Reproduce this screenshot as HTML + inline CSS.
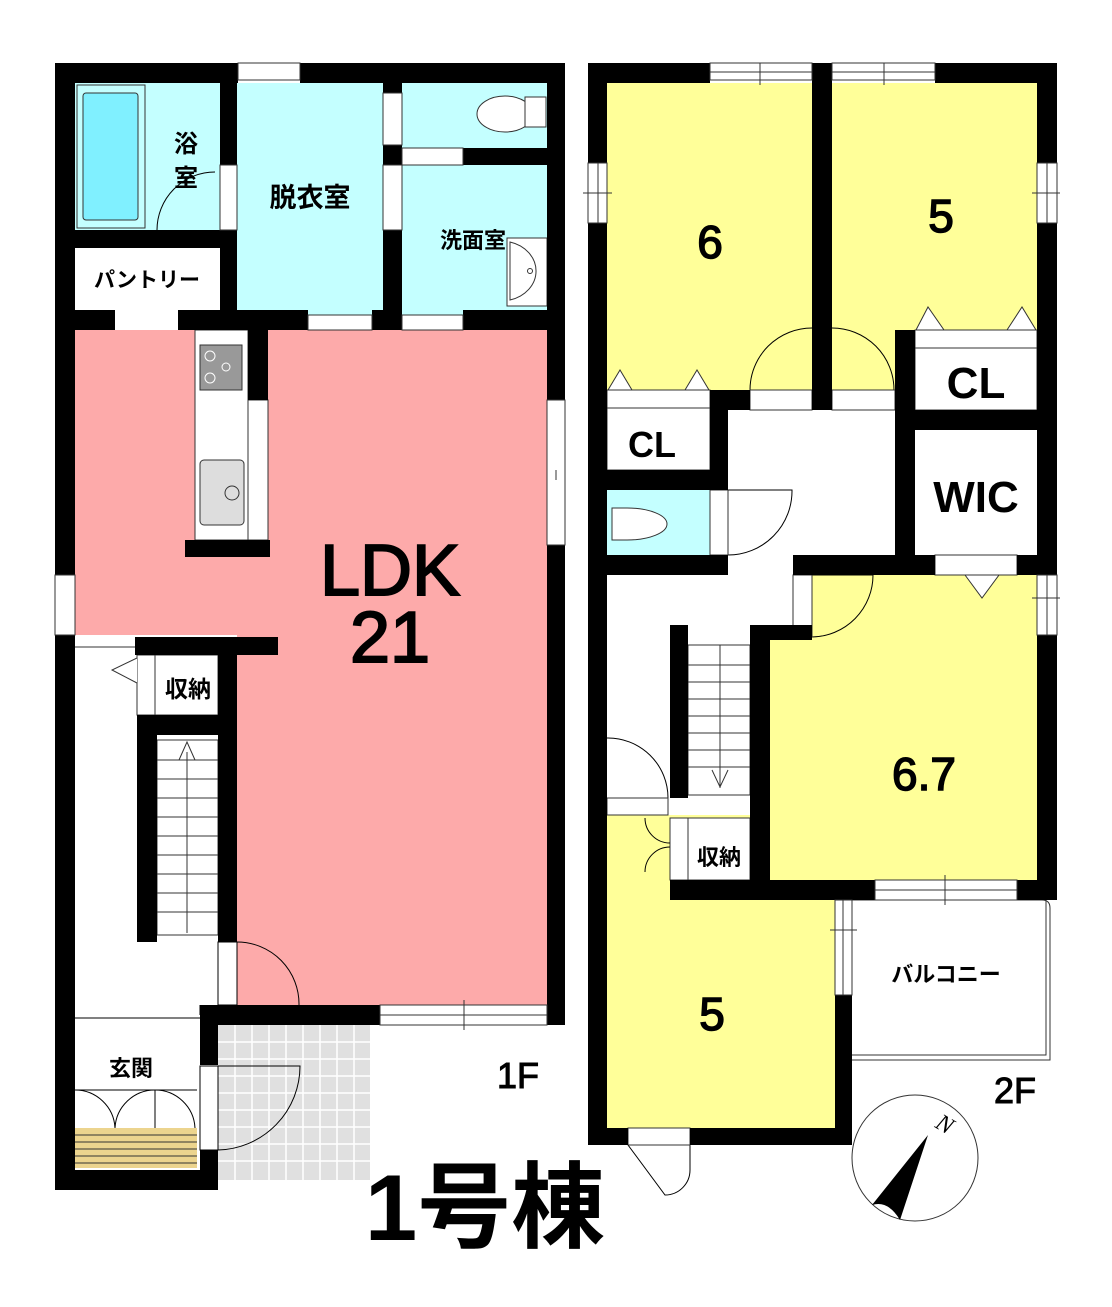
<!DOCTYPE html>
<html><head><meta charset="utf-8"><style>
html,body{margin:0;padding:0;background:#fff;}
svg{display:block;}
text{font-family:"Liberation Sans","Noto Sans CJK JP",sans-serif;font-weight:bold;fill:#000;}
</style></head><body>
<svg width="1112" height="1307" viewBox="0 0 1112 1307" xmlns="http://www.w3.org/2000/svg">
<rect width="1112" height="1307" fill="#fff"/>
<!-- ===== 1F fills ===== -->
<rect x="75" y="83" width="145" height="147" fill="#c4ffff"/>
<rect x="83" y="93" width="55" height="127" fill="#80f0ff" stroke="#333" stroke-width="1" rx="3"/>
<rect x="77" y="85" width="68" height="143" fill="none" stroke="#333" stroke-width="1"/>
<rect x="237" y="83" width="146" height="232" fill="#c4ffff"/>
<rect x="402" y="83" width="145" height="65" fill="#c4ffff"/>
<rect x="402" y="165" width="145" height="150" fill="#c4ffff"/>
<rect x="75" y="330" width="472" height="305" fill="#fdaaaa"/>
<rect x="237" y="635" width="310" height="372" fill="#fdaaaa"/>
<rect x="218" y="1025" width="152" height="155" fill="#e0e0e0"/>
<g stroke="#fff" stroke-width="1.5">
<line x1="235" y1="1025" x2="235" y2="1180"/><line x1="252" y1="1025" x2="252" y2="1180"/><line x1="269" y1="1025" x2="269" y2="1180"/><line x1="286" y1="1025" x2="286" y2="1180"/><line x1="303" y1="1025" x2="303" y2="1180"/><line x1="320" y1="1025" x2="320" y2="1180"/><line x1="337" y1="1025" x2="337" y2="1180"/><line x1="354" y1="1025" x2="354" y2="1180"/>
<line x1="218" y1="1042" x2="370" y2="1042"/><line x1="218" y1="1059" x2="370" y2="1059"/><line x1="218" y1="1076" x2="370" y2="1076"/><line x1="218" y1="1093" x2="370" y2="1093"/><line x1="218" y1="1110" x2="370" y2="1110"/><line x1="218" y1="1127" x2="370" y2="1127"/><line x1="218" y1="1144" x2="370" y2="1144"/><line x1="218" y1="1161" x2="370" y2="1161"/>
</g>
<!-- shoe cabinet -->
<rect x="75" y="1128" width="122" height="40" fill="#ecd48e"/>
<g stroke="#333" stroke-width="1"><line x1="75" y1="1135" x2="197" y2="1135"/><line x1="75" y1="1142" x2="197" y2="1142"/><line x1="75" y1="1149" x2="197" y2="1149"/><line x1="75" y1="1156" x2="197" y2="1156"/><line x1="75" y1="1163" x2="197" y2="1163"/></g>
<g fill="none" stroke="#000" stroke-width="1">
<path d="M75 1090 A40 40 0 0 1 115 1128"/><path d="M155 1090 A40 40 0 0 0 115 1128"/><path d="M155 1090 A40 40 0 0 1 195 1128"/><line x1="155" y1="1090" x2="155" y2="1128"/>
<line x1="75" y1="1090" x2="197" y2="1090"/>
<line x1="75" y1="1018" x2="200" y2="1018"/>
</g>
<!-- kitchen -->
<rect x="195" y="330" width="53" height="210" fill="#fff" stroke="#333" stroke-width="1"/>
<rect x="248" y="400" width="20" height="140" fill="#fff" stroke="#333" stroke-width="1"/>
<rect x="200" y="345" width="42" height="45" fill="#999" stroke="#333"/>
<circle cx="210" cy="356" r="5" fill="none" stroke="#fff"/><circle cx="210" cy="378" r="5" fill="none" stroke="#fff"/><circle cx="226" cy="367" r="4" fill="none" stroke="#fff"/>
<rect x="200" y="460" width="44" height="65" rx="4" fill="#ddd" stroke="#333"/>
<circle cx="232" cy="493" r="7" fill="none" stroke="#333"/>
<!-- toilet 1F -->
<ellipse cx="505" cy="114" rx="28" ry="18" fill="#fff" stroke="#333"/>
<rect x="525" y="97" width="21" height="30" fill="#fff" stroke="#333"/>
<!-- washbasin -->
<rect x="507" y="238" width="40" height="68" fill="#fff" stroke="#333"/>
<path d="M510 242 A35 30 0 0 1 510 300 Z" fill="#fff" stroke="#333"/>
<circle cx="530" cy="271" r="2.5" fill="none" stroke="#333"/>
<!-- stairs 1F -->
<rect x="157" y="740" width="61" height="195" fill="#fff" stroke="#333"/>
<g stroke="#333" stroke-width="1"><line x1="157" y1="760" x2="218" y2="760"/><line x1="157" y1="779" x2="218" y2="779"/><line x1="157" y1="798" x2="218" y2="798"/><line x1="157" y1="817" x2="218" y2="817"/><line x1="157" y1="836" x2="218" y2="836"/><line x1="157" y1="855" x2="218" y2="855"/><line x1="157" y1="874" x2="218" y2="874"/><line x1="157" y1="893" x2="218" y2="893"/><line x1="157" y1="912" x2="218" y2="912"/>
<line x1="187" y1="752" x2="187" y2="933"/><polyline points="179,760 187,742 195,760" fill="none"/></g>
<rect x="137" y="655" width="81" height="60" fill="#fff" stroke="#333"/>
<line x1="155" y1="655" x2="155" y2="715" stroke="#333"/>
<polyline points="137,658 112,670 137,683" fill="#fff" stroke="#333"/>
<!-- 1F doors -->
<g fill="none" stroke="#000" stroke-width="1">
<path d="M157 230 A58 58 0 0 1 215 172"/>
<path d="M237 942 A62 62 0 0 1 299 1005"/><line x1="237" y1="942" x2="237" y2="1005"/>
<path d="M218 1066 L300 1066 A84 84 0 0 1 218 1150"/>
<rect x="200" y="1066" width="18" height="84" fill="#fff"/>
<rect x="218" y="942" width="19" height="63" fill="#fff"/>
<line x1="200" y1="1015" x2="200" y2="1005"/>
</g>
<!-- 1F walls -->
<g fill="#000">
<rect x="55" y="63" width="183" height="20"/><rect x="300" y="63" width="265" height="20"/>
<rect x="55" y="63" width="20" height="512"/><rect x="55" y="635" width="20" height="555"/>
<rect x="547" y="63" width="18" height="337"/><rect x="547" y="545" width="18" height="480"/>
<rect x="220" y="83" width="17" height="82"/><rect x="220" y="230" width="17" height="100"/>
<rect x="55" y="230" width="182" height="18"/>
<rect x="55" y="310" width="60" height="20"/><rect x="178" y="310" width="70" height="20"/>
<rect x="248" y="310" width="60" height="20"/><rect x="372" y="310" width="30" height="20"/>
<rect x="463" y="310" width="84" height="20"/>
<rect x="383" y="83" width="19" height="10"/><rect x="383" y="145" width="19" height="20"/><rect x="383" y="230" width="19" height="100"/>
<rect x="463" y="148" width="84" height="17"/>
<rect x="248" y="330" width="20" height="70"/>
<rect x="185" y="540" width="85" height="17"/>
<rect x="135" y="637" width="143" height="18"/>
<rect x="218" y="655" width="19" height="287"/>
<rect x="137" y="715" width="100" height="20"/>
<rect x="137" y="735" width="20" height="207"/>
<rect x="200" y="1005" width="180" height="20"/>
<rect x="200" y="1005" width="18" height="60"/><rect x="200" y="1150" width="18" height="40"/>
<rect x="55" y="1170" width="163" height="20"/>
</g>
<!-- 1F windows -->
<g fill="#fff" stroke="#333" stroke-width="1">
<rect x="238" y="63" width="62" height="17"/>
<rect x="547" y="400" width="18" height="145"/>
<rect x="55" y="575" width="20" height="60"/>
<rect x="380" y="1005" width="167" height="20"/>
<rect x="115" y="315" width="63" height="15" stroke="none"/>
<rect x="308" y="315" width="64" height="15"/>
<rect x="402" y="315" width="61" height="15"/>
<rect x="402" y="148" width="61" height="17"/>
<rect x="383" y="93" width="19" height="52" stroke="#333"/>
<rect x="383" y="165" width="19" height="65"/>
<rect x="220" y="165" width="17" height="65"/>
<rect x="75" y="637" width="60" height="18" stroke="none"/>
</g>
<line x1="75" y1="647" x2="135" y2="647" stroke="#333"/>
<line x1="556" y1="470" x2="556" y2="480" stroke="#333"/>
<line x1="380" y1="1015" x2="547" y2="1015" stroke="#333"/>
<line x1="464" y1="1000" x2="464" y2="1030" stroke="#333"/>
<!-- 1F labels -->
<text x="186" y="152" font-size="24" text-anchor="middle">浴</text>
<text x="186" y="186" font-size="24" text-anchor="middle">室</text>
<text x="310" y="207" font-size="27" text-anchor="middle">脱衣室</text>
<text x="473" y="248" font-size="22" text-anchor="middle">洗面室</text>
<text x="147" y="287" font-size="21" text-anchor="middle">パントリー</text>
<text x="390" y="595" font-size="72" text-anchor="middle" stroke="#000" stroke-width="2" style="font-weight:400">LDK</text>
<text x="390" y="662" font-size="72" text-anchor="middle" stroke="#000" stroke-width="2" style="font-weight:400">21</text>
<text x="188" y="697" font-size="23" text-anchor="middle">収納</text>
<text x="131" y="1076" font-size="22" text-anchor="middle">玄関</text>
<text x="518" y="1088" font-size="36" text-anchor="middle" stroke="#000" stroke-width="1" style="font-weight:400">1F</text>
<text x="485" y="1240" font-size="94" text-anchor="middle">1号棟</text>

<!-- ===== 2F fills ===== -->
<rect x="607" y="83" width="205" height="307" fill="#ffff99"/>
<rect x="832" y="83" width="205" height="247" fill="#ffff99"/>
<rect x="832" y="330" width="63" height="80" fill="#ffff99"/>
<path d="M812 575 L1037 575 L1037 880 L770 880 L770 640 L812 640 Z" fill="#ffff99"/>
<rect x="607" y="815" width="228" height="313" fill="#ffff99"/>
<rect x="607" y="490" width="103" height="65" fill="#c4ffff"/>
<path d="M612 508 L627 508 A40 16 0 1 1 627 540 L612 540 Z" fill="#fff" stroke="#333"/>
<!-- CLs -->
<rect x="607" y="390" width="103" height="80" fill="#fff" stroke="#333"/>
<line x1="607" y1="408" x2="710" y2="408" stroke="#333"/>
<polygon points="608,390 620,370 632,390" fill="#fff" stroke="#333"/>
<polygon points="685,390 697,370 709,390" fill="#fff" stroke="#333"/>
<rect x="915" y="330" width="122" height="80" fill="#fff" stroke="#333"/>
<line x1="915" y1="348" x2="1037" y2="348" stroke="#333"/>
<polygon points="916,330 928,307 944,330" fill="#fff" stroke="#333"/>
<polygon points="1007,330 1022,307 1036,330" fill="#fff" stroke="#333"/>
<polygon points="965,575 982,598 999,575" fill="#fff" stroke="#333"/>
<!-- stairs 2F -->
<rect x="688" y="645" width="62" height="150" fill="#fff" stroke="#333"/>
<g stroke="#333" stroke-width="1"><line x1="688" y1="665" x2="750" y2="665"/><line x1="688" y1="682" x2="750" y2="682"/><line x1="688" y1="699" x2="750" y2="699"/><line x1="688" y1="716" x2="750" y2="716"/><line x1="688" y1="733" x2="750" y2="733"/><line x1="688" y1="750" x2="750" y2="750"/><line x1="688" y1="767" x2="750" y2="767"/>
<line x1="720" y1="645" x2="720" y2="788"/><polyline points="712,770 720,787 728,770" fill="none"/></g>
<rect x="670" y="818" width="80" height="62" fill="#fff" stroke="#333"/>
<line x1="688" y1="818" x2="688" y2="880" stroke="#333"/>
<!-- 2F doors -->
<g fill="none" stroke="#000" stroke-width="1">
<path d="M750 390 A62 62 0 0 1 812 328"/><path d="M832 328 A62 62 0 0 1 894 390"/>
<path d="M728 490 L792 490 A64 64 0 0 1 728 555"/>
<path d="M812 575 L873 575 A62 62 0 0 1 812 637"/>
<path d="M607 738 A60 60 0 0 1 668 798"/>
<path d="M645 818 A25 25 0 0 0 670 843 M670 847 A25 25 0 0 0 645 872"/>
<path d="M628 1145 L690 1145 L690 1170 A25 25 0 0 1 665 1195 Z"/>
</g>
<g fill="#fff" stroke="#333" stroke-width="1">
<rect x="750" y="390" width="62" height="20"/><rect x="832" y="390" width="63" height="20"/>
<rect x="710" y="490" width="18" height="65"/>
<rect x="793" y="575" width="19" height="62"/>
<rect x="607" y="798" width="61" height="17"/>
<rect x="628" y="1128" width="62" height="17"/>
<rect x="935" y="555" width="82" height="20"/>
</g>
<!-- balcony -->
<path d="M852 900 L1042 900 Q1050 900 1050 908 L1050 1060 L852 1060" fill="#fff" stroke="#333"/>
<path d="M852 900 L1046 900 L1046 1055 L852 1055" fill="none" stroke="#333"/>
<!-- 2F walls -->
<g fill="#000">
<rect x="588" y="63" width="122" height="20"/><rect x="812" y="63" width="20" height="20"/><rect x="935" y="63" width="122" height="20"/>
<rect x="588" y="63" width="19" height="100"/><rect x="588" y="223" width="19" height="922"/>
<rect x="1037" y="63" width="20" height="100"/><rect x="1037" y="223" width="20" height="352"/>
<rect x="1037" y="635" width="20" height="265"/>
<rect x="812" y="63" width="20" height="347"/>
<rect x="710" y="390" width="18" height="100"/><rect x="728" y="390" width="22" height="20"/>
<rect x="588" y="470" width="140" height="20"/>
<rect x="588" y="555" width="140" height="20"/>
<rect x="793" y="555" width="142" height="20"/><rect x="1017" y="555" width="40" height="20"/>
<rect x="895" y="330" width="20" height="245"/>
<rect x="895" y="410" width="162" height="20"/>
<rect x="670" y="625" width="18" height="173"/>
<rect x="750" y="625" width="20" height="275"/><rect x="770" y="625" width="42" height="15"/>
<rect x="670" y="880" width="205" height="20"/><rect x="1017" y="880" width="40" height="20"/>
<rect x="835" y="995" width="17" height="150"/>
<rect x="588" y="1128" width="40" height="17"/><rect x="690" y="1128" width="162" height="17"/>
</g>
<!-- 2F windows -->
<g fill="#fff" stroke="#333" stroke-width="1">
<rect x="710" y="63" width="102" height="17"/><rect x="832" y="63" width="103" height="17"/>
<rect x="588" y="163" width="19" height="60"/><rect x="1037" y="163" width="20" height="60"/>
<rect x="1037" y="575" width="20" height="60"/>
<rect x="875" y="880" width="142" height="20"/>
<rect x="835" y="900" width="17" height="95"/>
</g>
<g stroke="#333" stroke-width="1">
<line x1="710" y1="72" x2="812" y2="72"/><line x1="760" y1="63" x2="760" y2="85"/>
<line x1="832" y1="72" x2="935" y2="72"/><line x1="884" y1="63" x2="884" y2="85"/>
<line x1="598" y1="163" x2="598" y2="223"/><line x1="583" y1="193" x2="612" y2="193"/>
<line x1="1047" y1="163" x2="1047" y2="223"/><line x1="1032" y1="193" x2="1060" y2="193"/>
<line x1="1047" y1="575" x2="1047" y2="635"/><line x1="1032" y1="598" x2="1060" y2="598"/>
<line x1="875" y1="890" x2="1017" y2="890"/><line x1="945" y1="875" x2="945" y2="905"/>
<line x1="843" y1="900" x2="843" y2="995"/><line x1="830" y1="930" x2="857" y2="930"/>
</g>
<!-- 2F labels -->
<text x="710" y="258" font-size="46" text-anchor="middle" stroke="#000" stroke-width="1.5" style="font-weight:400">6</text>
<text x="941" y="232" font-size="46" text-anchor="middle" stroke="#000" stroke-width="1.5" style="font-weight:400">5</text>
<text x="652" y="457" font-size="36" text-anchor="middle">CL</text>
<text x="976" y="398" font-size="44" text-anchor="middle">CL</text>
<text x="976" y="512" font-size="44" text-anchor="middle">WIC</text>
<text x="924" y="790" font-size="46" text-anchor="middle" stroke="#000" stroke-width="1.5" style="font-weight:400">6.7</text>
<text x="719" y="865" font-size="22" text-anchor="middle">収納</text>
<text x="712" y="1030" font-size="46" text-anchor="middle" stroke="#000" stroke-width="1.5" style="font-weight:400">5</text>
<text x="946" y="982" font-size="22" text-anchor="middle">バルコニー</text>
<text x="1015" y="1103" font-size="36" text-anchor="middle" stroke="#000" stroke-width="1" style="font-weight:400">2F</text>
<!-- compass -->
<circle cx="915" cy="1158" r="63" fill="#fff" stroke="#333" stroke-width="1"/>
<path d="M928 1135 L872 1205 Q888 1200 900 1220 Z" fill="#000"/>
<text x="938" y="1128" font-size="24" style="font-weight:400;font-style:italic;font-family:'Liberation Serif',serif" transform="rotate(30 938 1120)">N</text>
</svg>
</body></html>
